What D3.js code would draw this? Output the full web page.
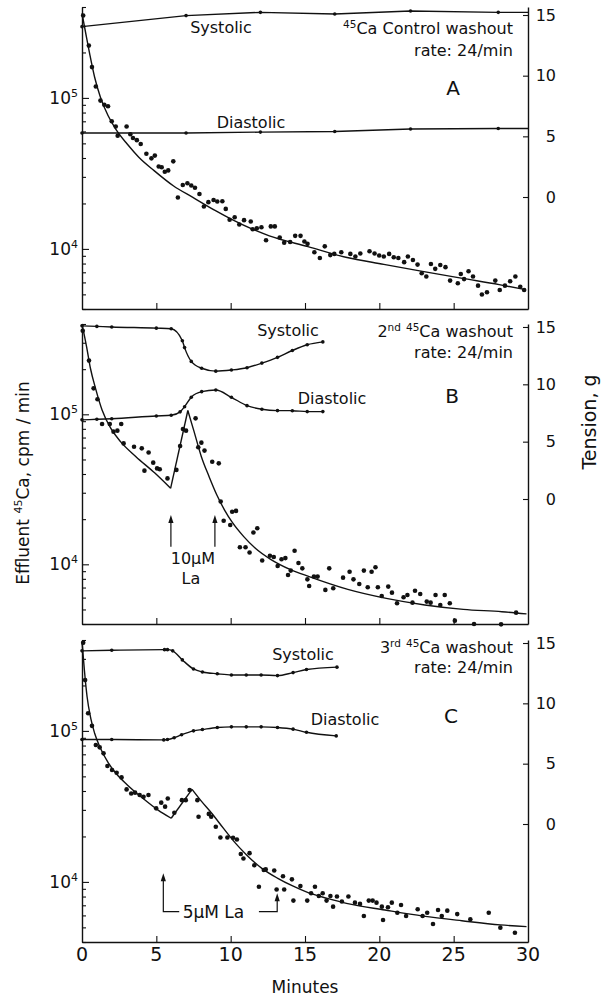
<!DOCTYPE html>
<html><head><meta charset="utf-8">
<script src="https://cdn.jsdelivr.net/npm/d3@7"></script>
<style>
body{margin:0;background:#fff;}
svg text{font-family:"DejaVu Sans",sans-serif;fill:#111;}
</style></head><body>
<svg id="chart" width="606" height="999"></svg>
<script>
// ---------------- DATA ----------------
const minuteTicks = [0,5,10,15,20,25,30];
const tensionTicks = [0,5,10,15];
const logTicks = [4000,5000,6000,7000,8000,9000,10000,20000,30000,40000,50000,60000,70000,80000,90000,100000,200000,300000,400000];
const logMajor = [10000,100000];
const panelLetters = ["A","B","C"];
const panelTitles = [["","","45","Ca Control washout"],["2","nd","45","Ca washout"],["3","rd","45","Ca washout"]];
const rateLabel = "rate: 24/min";

// Panel A
const systolicA = [[0,14.04],[7.0,14.95],[12.0,15.22],[17.0,15.08],[22.1,15.33],[28.0,15.22],[30,15.22]];
const diastolicA = [[0,5.27],[7.0,5.27],[12.0,5.35],[17.0,5.4],[22.1,5.6],[28.0,5.65],[30,5.65]];
const washoutA = [[0.08,351000],[0.46,222000],[0.67,160000],[0.93,119000],[1.24,96000],[1.5,90000],[1.75,88000],[2.0,70000],[2.27,64600],[2.4,56200],[3.0,64600],[3.25,57500],[3.43,54300],[3.69,52500],[3.95,49500],[4.33,42700],[4.67,39800],[4.9,41500],[5.16,35100],[5.36,34700],[5.57,32400],[5.8,33100],[6.14,38000],[6.45,21900],[6.78,26500],[7.09,27200],[7.35,26300],[7.6,25400],[7.9,23100],[8.2,19100],[8.5,20400],[8.85,21100],[9.1,20600],[9.44,20700],[9.67,18400],[9.93,15600],[10.27,16200],[10.58,14500],[10.9,15500],[11.35,15200],[11.48,13500],[11.76,13700],[12.07,13900],[12.38,11400],[12.7,14100],[12.97,14100],[13.3,11900],[13.6,11000],[14.0,11100],[14.34,12200],[14.7,12200],[14.96,11200],[15.17,10800],[15.63,9500],[16.0,8700],[16.33,10400],[16.7,9100],[16.97,9270],[17.44,9500],[18.05,9270],[18.39,8900],[18.72,9330],[19.34,9660],[19.68,9330],[19.99,9040],[20.3,8900],[20.66,9270],[20.97,8810],[21.28,8710],[21.67,8170],[21.92,8910],[22.26,8450],[22.57,7870],[22.85,6900],[23.16,6560],[23.47,7940],[23.76,7380],[24.1,7830],[24.45,7570],[24.76,6170],[25.28,5930],[25.48,6820],[25.7,6310],[26.0,7110],[26.3,6560],[26.64,5710],[26.9,4990],[27.24,5160],[27.8,6170],[28.1,5350],[28.45,5710],[28.8,6110],[29.15,6560],[29.48,5620],[29.74,5350]];
const fitA = [[0,363000],[0.26,265000],[0.52,195000],[0.85,137000],[1.24,101000],[1.75,76400],[2.27,62200],[3.04,49500],[3.82,40500],[4.85,33000],[6.14,26200],[7.43,22000],[8.98,17900],[10.0,15800],[12.6,12200],[15.2,10350],[17.75,8800],[20.3,7900],[22.9,7100],[25.5,6400],[28.06,5800],[29.74,5400]];

// Panel B
const systolicB = [[0,15.1],[1.0,15.05],[2.0,15.0],[5.0,14.9],[6.0,14.85],[6.75,13.8],[6.9,13.2],[7.35,12.0],[8.05,11.4],[9.0,11.15],[10.05,11.25],[11.1,11.45],[12.1,11.85],[13.15,12.35],[14.15,12.95],[15.15,13.45],[16.2,13.7]];
const diastolicB = [[0,6.9],[1.0,6.95],[2.0,7.0],[5.0,7.24],[6.0,7.3],[6.6,7.6],[6.9,8.05],[7.35,8.87],[8.05,9.36],[9.0,9.5],[10.05,8.87],[11.1,8.14],[12.1,7.83],[13.15,7.71],[14.15,7.7],[15.15,7.62],[16.2,7.62]];
const washoutB = [[0.05,361000],[0.47,228000],[0.78,149000],[1.04,126000],[1.35,86100],[1.87,86100],[2.12,76600],[2.38,77800],[2.64,86100],[2.8,64000],[3.5,60800],[4.02,59300],[4.48,55700],[4.2,42100],[4.79,47600],[5.05,43600],[5.23,43000],[5.75,37400],[6.35,42600],[6.6,61500],[6.79,79800],[7.0,77800],[7.64,94000],[7.82,60300],[8.03,64700],[8.24,57300],[8.76,48300],[9.2,47100],[9.33,26200],[9.53,19500],[9.97,18300],[10.1,22400],[10.36,22700],[10.62,13000],[11.0,13000],[11.27,12000],[11.53,16300],[11.79,17400],[12.12,10600],[12.64,11400],[12.9,11200],[13.16,9750],[13.42,10800],[13.68,11000],[13.86,8490],[14.04,9080],[14.3,12300],[14.56,10200],[14.82,9400],[15.16,7940],[15.28,7170],[15.6,8280],[15.85,8280],[16.37,6750],[16.63,9400],[16.9,6920],[17.56,8150],[18.0,8930],[18.26,7940],[18.65,7390],[18.96,9080],[19.22,7030],[19.48,8930],[19.74,9550],[19.9,7030],[20.16,6150],[20.6,7100],[20.85,6470],[21.19,5500],[21.63,6030],[21.89,6240],[22.23,5550],[22.4,6670],[22.75,6340],[23.19,5640],[23.45,5550],[23.78,6240],[24.1,5360],[24.4,6240],[24.74,5500],[25.08,4210],[26.37,4000],[28.19,3980],[29.2,4760]];
const fitB = [
  [[0,400000],[0.31,282000],[0.57,202000],[0.91,149000],[1.35,107000],[1.94,80500],[2.59,65800],[3.63,52200],[4.92,40400],[5.96,32100]],
  [[5.96,32100],[7.12,106000]],
  [[7.12,106000],[7.51,78500],[8.03,52200],[8.55,38400],[9.07,29000],[9.59,23000],[10.1,19100],[10.88,15300],[11.66,12800],[12.69,10800],[13.99,9250],[15.28,8280],[17.88,6810],[20.47,5930],[23.06,5360],[25.65,5010],[28.24,4830],[29.9,4670]]
];
const arrowsB = [[5.98,13100,21300],[8.94,13100,21300]];

// Panel C
const systolicC = [[0,14.35],[2.0,14.4],[5.55,14.45],[5.75,14.45],[6.1,14.35],[6.75,13.6],[7.5,12.85],[8.1,12.6],[9.1,12.45],[10.05,12.35],[11.05,12.35],[12.05,12.35],[13.15,12.3],[14.2,12.55],[15.1,12.8],[17.15,13.0]];
const diastolicC = [[0,7.0],[2.0,7.0],[5.5,6.97],[5.75,7.0],[6.2,7.15],[6.7,7.4],[7.5,7.72],[8.1,7.83],[9.1,8.0],[10.05,8.05],[11.05,8.05],[12.05,8.05],[13.15,8.0],[14.2,7.86],[15.1,7.6],[17.1,7.3]];
const washoutC = [[0.08,384000],[0.21,217000],[0.41,131000],[0.67,108000],[0.93,80600],[1.19,77800],[1.45,71000],[1.71,58500],[2.02,55100],[2.33,52800],[2.66,49200],[3.0,41000],[3.31,38500],[3.57,39000],[3.88,37600],[4.14,36600],[4.47,37600],[4.99,30700],[5.33,33500],[5.59,31500],[5.77,35700],[6.21,28700],[6.72,34800],[6.98,34800],[7.24,40600],[7.76,34800],[7.84,27000],[8.53,28200],[8.69,27000],[9.0,23200],[9.31,19700],[9.78,19700],[10.16,19600],[10.42,19100],[10.68,15300],[10.86,14300],[11.27,15500],[11.59,12900],[11.9,9290],[12.23,12000],[12.36,12100],[12.93,11900],[13.09,8910],[13.52,10900],[13.6,8910],[14.12,10400],[14.22,7520],[14.69,9380],[15.15,7520],[15.41,8410],[15.67,9290],[15.93,8070],[16.19,8410],[16.45,7520],[16.71,8070],[16.89,6860],[17.15,8000],[17.48,7410],[17.92,8000],[18.36,7290],[18.7,7150],[18.96,5940],[19.29,7520],[19.55,7520],[19.81,7290],[20.17,6860],[20.25,5600],[20.58,6790],[20.84,7290],[21.21,6250],[21.46,7030],[21.8,5940],[22.58,6590],[22.91,5940],[23.22,6250],[23.61,5260],[23.95,6520],[24.2,5940],[24.57,6450],[25.24,6120],[26.12,5650],[27.36,6250],[28.14,4980],[29.12,4610]];
const fitC = [
  [[0,390000],[0.16,253000],[0.34,169000],[0.59,121000],[0.85,96400],[1.24,76700],[1.76,61700],[2.28,52400],[3.05,43900],[4.09,35800],[5.12,29900],[6.0,26400]],
  [[6.0,26400],[7.4,41000]],
  [[7.4,41000],[7.97,34800],[8.74,28400],[9.52,22600],[10.29,18200],[11.07,15100],[12.1,12300],[13.14,10600],[14.17,9400],[15.21,8490],[16.5,7780],[17.79,7210],[20.38,6520],[22.96,5940],[25.55,5530],[28.14,5190],[29.9,5060]]
];
const bracketC = {left:5.47, right:13.13, base:6350, leftTop:11400, rightTop:8400, leftEnd:6.54, rightStart:11.9, textMin:6.77};

// ---------------- DRAW ----------------
const svg = d3.select("#chart");
const x = d3.scaleLinear().domain([0,30]).range([82,528]);

const panels = [
  {top:7, bottom:309, tDomain:[-9.23,15.66], sys:systolicA, dia:diastolicA, pts:washoutA, fit:[fitA], linCurve:true,
   sysLab:[221,33], diaLab:[251,128], titleY:34, rateY:56, letter:[453,95]},
  {top:324, bottom:624, tDomain:[-10.9,15.26], sys:systolicB, dia:diastolicB, pts:washoutB, fit:fitB, linCurve:false,
   sysLab:[288,336], diaLab:[332,404], titleY:337, rateY:358, letter:[452,403]},
  {top:640, bottom:942, tDomain:[-9.78,15.25], sys:systolicC, dia:diastolicC, pts:washoutC, fit:fitC, linCurve:false,
   sysLab:[303,660], diaLab:[345,725], titleY:653, rateY:673, letter:[451,723]}
];

panels.forEach((p,i)=>{
  const y = d3.scaleLog().domain([4000,400000]).range([p.bottom,p.top]);
  const t = d3.scaleLinear().domain(p.tDomain).range([p.bottom,p.top]);
  const g = svg.append("g");

  g.append("g").attr("transform",`translate(${x(0)},0)`)
    .call(d3.axisRight(y).tickValues(logTicks.filter(v=>!logMajor.includes(v))).tickSize(4).tickSizeOuter(0).tickFormat(""));
  g.append("g").attr("transform",`translate(${x(0)},0)`)
    .call(d3.axisRight(y).tickValues(logMajor).tickSize(7).tickSizeOuter(0).tickFormat(""))
    .select(".domain").remove();
  g.append("g").attr("transform",`translate(0,${p.bottom})`)
    .call(d3.axisTop(x).tickValues(minuteTicks.slice(1,-1)).tickSize(6).tickSizeOuter(0).tickFormat(""));
  g.append("g").attr("transform",`translate(${x(30)},0)`)
    .call(d3.axisLeft(t).tickValues(tensionTicks).tickSize(5).tickSizeOuter(0).tickFormat(""));
  g.selectAll(".domain").attr("stroke","#111").attr("stroke-width",1.4);
  g.selectAll(".tick line").attr("stroke","#111").attr("stroke-width",1.1);

  logMajor.forEach(v=>{
    const e = Math.round(Math.log10(v));
    const tx = g.append("text").attr("x",x(0)-4).attr("y",y(v)).attr("dy","0.36em")
      .attr("text-anchor","end").attr("font-size",17);
    tx.append("tspan").text("10");
    tx.append("tspan").attr("font-size",11).attr("dy","-0.65em").text(e);
  });
  tensionTicks.forEach(v=>{
    g.append("text").attr("x",x(30)+28).attr("y",t(v)).attr("dy","0.36em")
      .attr("text-anchor","end").attr("font-size",16).text(v);
  });

  const tl = d3.line().x(d=>x(d[0])).y(d=>t(d[1])).curve(p.linCurve?d3.curveLinear:d3.curveMonotoneX);
  [p.sys,p.dia].forEach(s=>{
    g.append("path").attr("d",tl(s)).attr("fill","none").attr("stroke","#111").attr("stroke-width",1.4);
    g.selectAll(null).data(s.filter(d=>d[0]<30)).join("circle").attr("cx",d=>x(d[0])).attr("cy",d=>t(d[1])).attr("r",1.8).attr("fill","#111");
  });

  const fl = d3.line().x(d=>x(d[0])).y(d=>y(d[1])).curve(d3.curveMonotoneX);
  p.fit.forEach(seg=>{
    g.append("path").attr("d",fl(seg)).attr("fill","none").attr("stroke","#111").attr("stroke-width",1.4);
  });
  g.selectAll(null).data(p.pts).join("circle").attr("cx",d=>x(d[0])).attr("cy",d=>y(d[1])).attr("r",2.3).attr("fill","#111");

  g.append("text").attr("x",p.sysLab[0]).attr("y",p.sysLab[1]).attr("text-anchor","middle").attr("font-size",16).text("Systolic");
  g.append("text").attr("x",p.diaLab[0]).attr("y",p.diaLab[1]).attr("text-anchor","middle").attr("font-size",16).text("Diastolic");
  const ttl = panelTitles[i];
  const tt = g.append("text").attr("x",513).attr("y",p.titleY).attr("text-anchor","end").attr("font-size",16);
  if (ttl[0]) {
    tt.append("tspan").text(ttl[0]);
    tt.append("tspan").attr("font-size",10.5).attr("dy",-6).text(ttl[1]);
    tt.append("tspan").attr("font-size",16).attr("dy",6).text(" ");
  }
  tt.append("tspan").attr("font-size",10.5).attr("dy",-6).text(ttl[2]);
  tt.append("tspan").attr("font-size",16).attr("dy",6).text(ttl[3]);
  g.append("text").attr("x",513).attr("y",p.rateY).attr("text-anchor","end").attr("font-size",16).text(rateLabel);
  g.append("text").attr("x",p.letter[0]).attr("y",p.letter[1]).attr("text-anchor","middle").attr("font-size",20).text(panelLetters[i]);

  p.yScale = y;
});

function arrowHead(g, px, py){
  g.append("path").attr("d",`M${px},${py} L${px-2.6},${py+8} L${px+2.6},${py+8} Z`).attr("fill","#111");
}

{
  const y = panels[1].yScale;
  const g = svg.append("g");
  arrowsB.forEach(a=>{
    g.append("line").attr("x1",x(a[0])).attr("x2",x(a[0])).attr("y1",y(a[1])).attr("y2",y(a[2])+4)
      .attr("stroke","#111").attr("stroke-width",1.2);
    arrowHead(g, x(a[0]), y(a[2]));
  });
  const cx = (x(arrowsB[0][0])+x(arrowsB[1][0]))/2;
  g.append("text").attr("x",cx).attr("y",y(arrowsB[0][1])+17).attr("text-anchor","middle").attr("font-size",16).text("10μM");
  g.append("text").attr("x",cx-2).attr("y",y(arrowsB[0][1])+37).attr("text-anchor","middle").attr("font-size",16).text("La");
}
{
  const y = panels[2].yScale;
  const b = bracketC;
  const g = svg.append("g");
  g.append("path").attr("d",`M${x(b.left)},${y(b.leftTop)+4} L${x(b.left)},${y(b.base)} L${x(b.leftEnd)},${y(b.base)}`)
    .attr("fill","none").attr("stroke","#111").attr("stroke-width",1.2);
  arrowHead(g, x(b.left), y(b.leftTop));
  g.append("path").attr("d",`M${x(b.rightStart)},${y(b.base)} L${x(b.right)},${y(b.base)} L${x(b.right)},${y(b.rightTop)+4}`)
    .attr("fill","none").attr("stroke","#111").attr("stroke-width",1.2);
  arrowHead(g, x(b.right), y(b.rightTop));
  g.append("text").attr("x",x(b.textMin)).attr("y",y(b.base)+6).attr("font-size",17).text("5μM La");
}

{
  const g = svg.append("g").attr("transform",`translate(0,${panels[2].bottom})`);
  minuteTicks.forEach(v=>{
    g.append("text").attr("x",x(v)).attr("y",19).attr("text-anchor","middle").attr("font-size",19).text(v);
  });
  svg.append("text").attr("x",x(15)).attr("y",993).attr("text-anchor","middle").attr("font-size",17).text("Minutes");
}
const yt = svg.append("text").attr("transform","translate(29,483) rotate(-90)").attr("text-anchor","middle").attr("font-size",17);
yt.append("tspan").text("Effluent ");
yt.append("tspan").attr("font-size",11).attr("dy",-7).text("45");
yt.append("tspan").attr("dy",7).text("Ca, cpm / min");
svg.append("text").attr("transform","translate(596,422) rotate(-90)").attr("text-anchor","middle").attr("font-size",19).text("Tension, g");
</script></body></html>
